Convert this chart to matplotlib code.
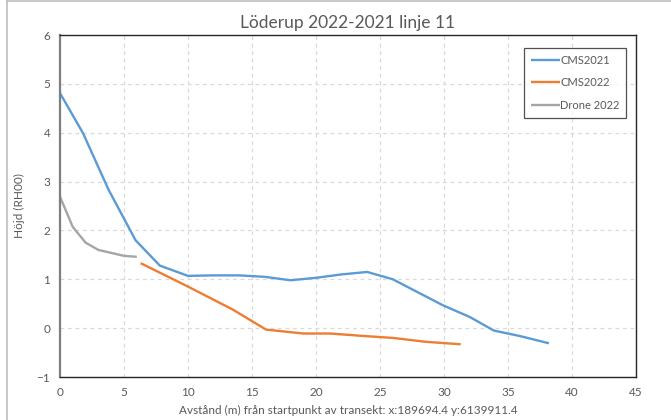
import matplotlib
matplotlib.use("Agg")
import matplotlib.pyplot as plt
from matplotlib.lines import Line2D

plt.rcParams['font.family'] = ['Lato', 'DejaVu Sans']

# CMS2021 profile
cms2021_x = [0.0, 1.8, 3.8, 5.9, 7.8, 10.0, 12.0, 14.0, 16.0, 18.0, 20.0, 22.0, 24.0, 26.0, 29.9, 32.0, 33.9, 35.9, 38.2]
cms2021_y = [4.81, 3.99, 2.83, 1.80, 1.28, 1.07, 1.08, 1.08, 1.05, 0.98, 1.03, 1.10, 1.15, 1.00, 0.47, 0.23, -0.05, -0.16, -0.31]

# CMS2022 profile
cms2022_x = [6.3, 10.0, 13.5, 16.1, 19.0, 21.1, 23.7, 26.0, 28.6, 31.3]
cms2022_y = [1.33, 0.85, 0.38, -0.03, -0.11, -0.11, -0.16, -0.20, -0.28, -0.33]

# Drone 2022 profile
drone_x = [0.0, 1.0, 2.0, 3.0, 5.0, 6.0]
drone_y = [2.69, 2.07, 1.75, 1.60, 1.48, 1.46]

xticks = list(range(0, 46, 5))
yticks = list(range(-1, 7))

fig = plt.figure(figsize=(6.71, 4.2), dpi=100)
ax = fig.add_axes([60 / 671, 1 - 377 / 420, 576 / 671, 342 / 420])

ax.plot(cms2021_x, cms2021_y, color='#5B9BD5', lw=1.7, label='CMS2021', solid_capstyle='butt')
ax.plot(cms2022_x, cms2022_y, color='#ED7D31', lw=1.7, label='CMS2022', solid_capstyle='butt')
ax.plot(drone_x, drone_y, color='#A5A5A5', lw=1.7, label='Drone 2022', solid_capstyle='butt')

ax.set_xlim(0, 45)
ax.set_ylim(-1, 6)
ax.set_xticks(xticks)
ax.set_yticks(yticks)
ax.grid(True, color='#D9D9D9', ls=(0, (3, 3)), lw=0.9)
ax.set_axisbelow(True)
ax.tick_params(length=0, labelsize=8.5, labelcolor='#595959', pad=7)

for side in ['top', 'right', 'bottom']:
    ax.spines[side].set_color('#262626')
    ax.spines[side].set_linewidth(1.0)
ax.spines['left'].set_color('#7F7F7F')
ax.spines['left'].set_linewidth(1.6)

ax.set_title('Löderup 2022-2021 linje 11', fontsize=12.5, color='#595959', pad=5)
ax.set_xlabel('Avstånd (m) från startpunkt av transekt: x:189694.4 y:6139911.4',
              fontsize=8.5, color='#595959', labelpad=5)
ax.set_ylabel('Höjd (RH00)', fontsize=8.5, color='#595959', labelpad=8)

leg = ax.legend(loc='upper right', bbox_to_anchor=(0.983, 0.962), fontsize=8,
                frameon=True, fancybox=False, edgecolor='#262626',
                handlelength=2.6, handletextpad=0.05, labelspacing=1.05,
                borderpad=0.6, borderaxespad=0, labelcolor='#595959')
leg.get_frame().set_linewidth(0.9)

# outer chart border
fig.add_artist(Line2D([7 / 671, 7 / 671], [0, 1 - 1 / 420], color='#BFBFBF', lw=1.2))
fig.add_artist(Line2D([7 / 671, 1], [1 - 1 / 420, 1 - 1 / 420], color='#BFBFBF', lw=1.2))

fig.savefig('out.png', dpi=100)
